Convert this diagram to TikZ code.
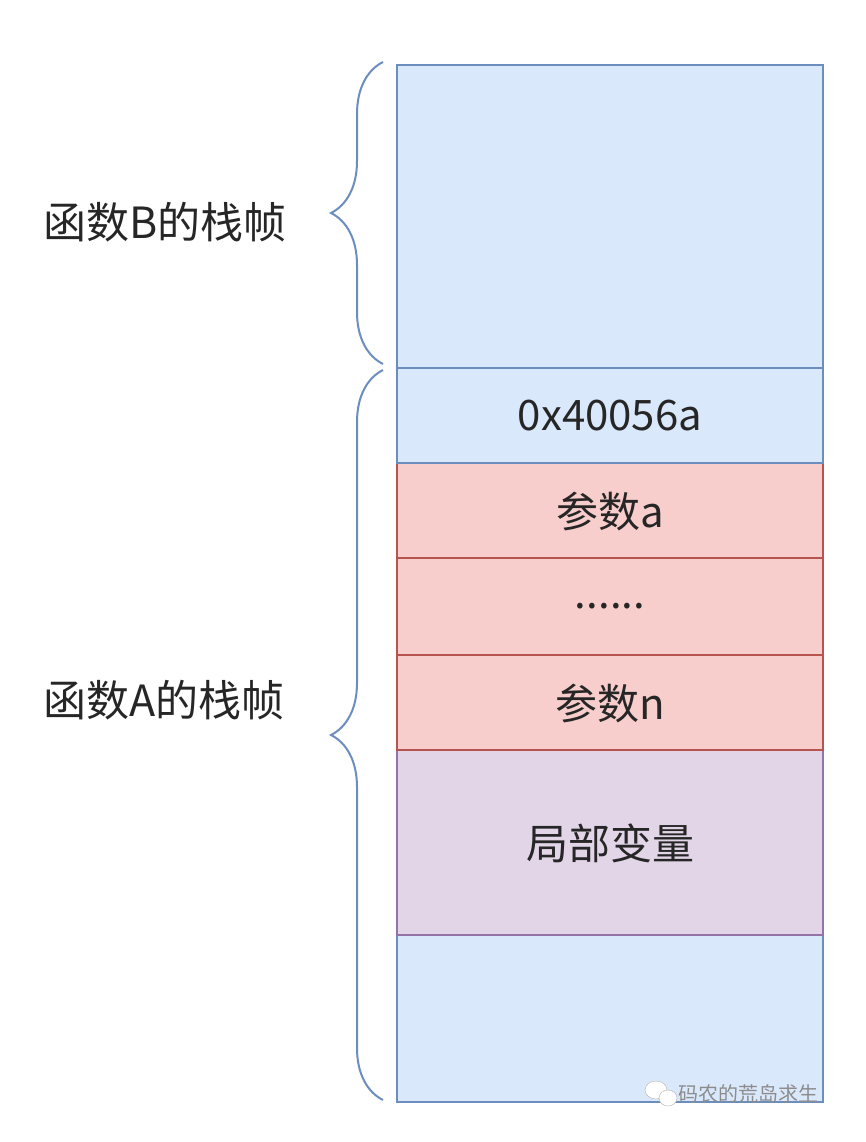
\documentclass[tikz,border=0pt]{standalone}
\usepackage{fontspec}
\setmainfont{Noto Sans CJK SC}
\usetikzlibrary{decorations.pathreplacing}
\definecolor{bfill}{HTML}{DAE8FC}\definecolor{bline}{HTML}{6C8EBF}
\definecolor{rfill}{HTML}{F8CECC}\definecolor{rline}{HTML}{B85450}
\definecolor{pfill}{HTML}{E1D5E7}\definecolor{pline}{HTML}{9673A6}
\tikzset{
 cell/.style={line width=2pt},
 bluecell/.style={cell,fill=bfill,draw=bline},
 redcell/.style={cell,fill=rfill,draw=rline},
 purcell/.style={cell,fill=pfill,draw=pline},
 boxtxt/.style={font=\fontsize{42}{48}\selectfont,text=black!85},
 lbl/.style={font=\fontsize{43}{50}\selectfont,text=black!85,anchor=west},
 brc/.style={draw=bline,line width=2pt,decorate,decoration={brace,amplitude=52pt}}
}
\begin{document}
\begin{tikzpicture}[x=1pt,y=-1pt]
\useasboundingbox (0,0) rectangle (866,1142);
\draw[bluecell] (397,65) rectangle (823,368);
\draw[bluecell] (397,935) rectangle (823,1102);
\draw[purcell] (397,750) rectangle (823,935);
\draw[redcell] (397,655) rectangle (823,750);
\draw[redcell] (397,558) rectangle (823,655);
\draw[redcell] (397,463) rectangle (823,558);
\draw[bluecell] (397,368) rectangle (823,463);
\node[boxtxt] (ret) at (610,416) {0x40056a};
\node[boxtxt] (pa) at (610,511) {参数a};
\node[boxtxt] (dots) at (610,606) {......};
\node[boxtxt] (pn) at (610,703) {参数n};
\node[boxtxt] (loc) at (610,843) {局部变量};
\coordinate (b1) at (383,364); \coordinate (b2) at (383,62);
\coordinate (a1) at (383,1100); \coordinate (a2) at (383,370);
\draw[brc] (b1) -- (b2);
\draw[brc] (a1) -- (a2);
\node[lbl] (lb) at (40,222) {函数B的栈帧};
\node[lbl] (la) at (40,700) {函数A的栈帧};
\node[font=\fontsize{20}{24}\selectfont,text=black!45] (wm) at (748,1094) {码农的荒岛求生};
\fill[white,draw=black!30] (656,1090) ellipse (11pt and 9pt);
\fill[white,draw=black!30] (668,1098) ellipse (9pt and 8pt);
\end{tikzpicture}
\end{document}
